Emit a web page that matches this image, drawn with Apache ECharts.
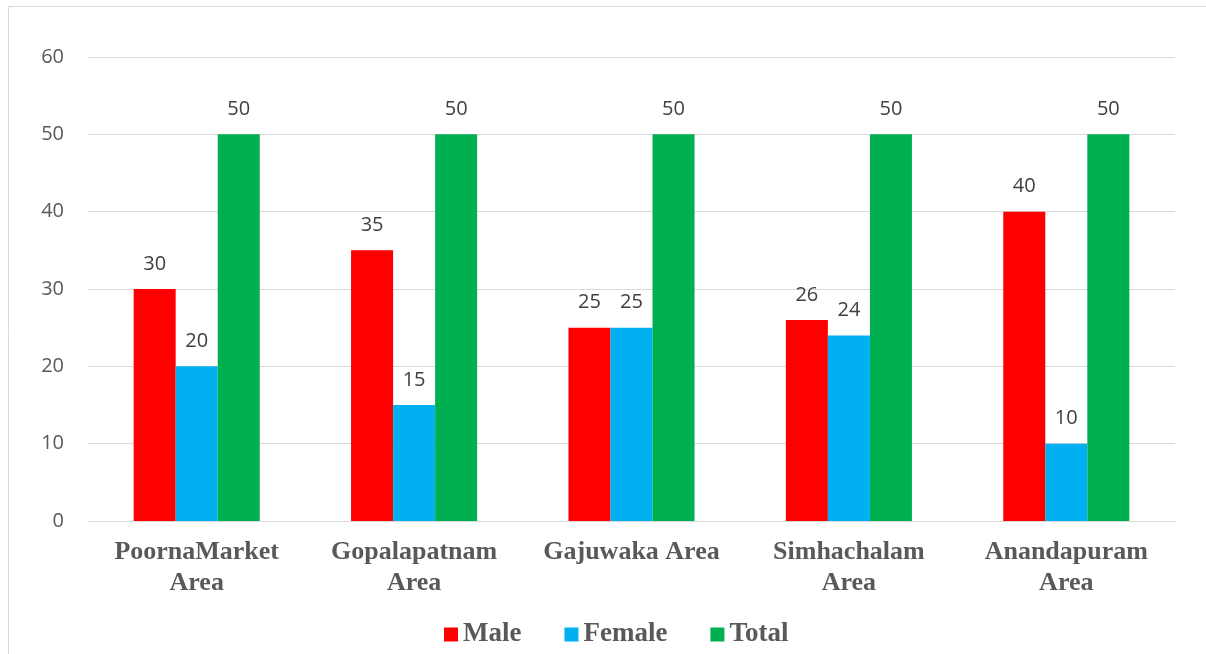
<!DOCTYPE html>
<html>
<head>
<meta charset="utf-8">
<script src="https://cdn.jsdelivr.net/npm/echarts@6/dist/echarts.min.js"></script>
<style>
  html, body { margin: 0; padding: 0; background: #ffffff; }
  #chart { width: 1206px; height: 654px; }
</style>
</head>
<body>
<div id="chart"></div>
<script>
// Survey respondents by area
const areas = ['PoornaMarket\nArea', 'Gopalapatnam\nArea', 'Gajuwaka Area', 'Simhachalam\nArea', 'Anandapuram\nArea'];
const maleCounts = [30, 35, 25, 26, 40];
const femaleCounts = [20, 15, 25, 24, 10];
const totalCounts = [50, 50, 50, 50, 50];
const yTicks = { min: 0, max: 60, interval: 10 };

const chart = echarts.init(document.getElementById('chart'), null, { renderer: 'canvas' });

const labelStyle = {
  show: true,
  position: 'top',
  distance: 15,
  color: '#404040',
  fontFamily: '"Open Sans", "Liberation Sans", sans-serif',
  fontSize: 20
};

function barSeries(name, data, color) {
  return {
    name: name,
    type: 'bar',
    data: data,
    barGap: '0%',
    barCategoryGap: '42%',
    itemStyle: { color: color },
    label: labelStyle
  };
}

chart.setOption({
  animation: false,
  backgroundColor: '#ffffff',
  graphic: [{
    type: 'rect',
    shape: { x: 8.5, y: 6.5, width: 1220, height: 700 },
    style: { fill: 'none', stroke: '#d9d9d9', lineWidth: 1 },
    silent: true
  }],
  grid: { left: 88, right: 31, top: 57, bottom: 133 },
  legend: {
    top: 616,
    left: 439,
    itemWidth: 14,
    itemHeight: 14,
    itemGap: 43,
    icon: 'rect',
    textStyle: {
      color: '#595959',
      fontFamily: '"Liberation Serif", "Times New Roman", serif',
      fontWeight: 'bold',
      fontSize: 27,
      padding: [0, 0, 0, 0]
    },
    data: ['Male', 'Female', 'Total']
  },
  xAxis: {
    type: 'category',
    data: areas,
    axisLine: { lineStyle: { color: '#d9d9d9', width: 1 } },
    axisTick: { show: false },
    axisLabel: {
      margin: 16,
      color: '#595959',
      fontFamily: '"Liberation Serif", "Times New Roman", serif',
      fontWeight: 'bold',
      fontSize: 26,
      lineHeight: 31,
      interval: 0
    }
  },
  yAxis: {
    type: 'value',
    min: yTicks.min,
    max: yTicks.max,
    interval: yTicks.interval,
    axisLine: { show: false },
    axisTick: { show: false },
    splitLine: { lineStyle: { color: '#d9d9d9', width: 1 } },
    axisLabel: {
      margin: 24,
      color: '#595959',
      fontFamily: '"Open Sans", "Liberation Sans", sans-serif',
      fontSize: 20
    }
  },
  series: [
    barSeries('Male', maleCounts, '#ff0000'),
    barSeries('Female', femaleCounts, '#00b0f0'),
    barSeries('Total', totalCounts, '#00b050')
  ]
});
</script>
</body>
</html>
